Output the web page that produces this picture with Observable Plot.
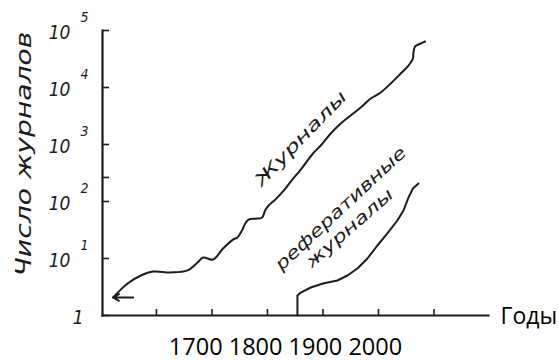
<!DOCTYPE html>
<html><head><meta charset="utf-8">
<script src="https://cdn.jsdelivr.net/npm/d3@7"></script>
<script src="https://cdn.jsdelivr.net/npm/@observablehq/plot@0.6"></script>
<style>
body{margin:0;background:#fff;}
#chart svg{display:block;background:#fff;}
</style></head><body><div id="chart"></div>
<script>
// Журналы
const journalYears  = [1661,1674,1686,1697,1713,1728,1737,1742,1751,1760,1769,1773,1777,1780,1783,1789,1795,1798,1801,1807,1814,1821,1830,1841,1848,1857,1866,1875,1884,1893,1902,1911,1920,1927,1931,1931.5,1933,1938,1942];
const journalCounts = [2.07,3.64,5.03,5.9,5.7,6.2,8.5,10.4,9.6,15,21.5,23.4,31,41,48,50,52,70,85,108,150,224,364,695,960,1560,2335,3230,4460,6410,8170,11750,17600,24300,32300,41100,52400,59100,64100];
// Реферативные журналы
const abstractYears  = [1827,1827,1830,1839,1850,1863,1872,1881,1890,1899,1908,1917,1922.5,1927,1931,1936];
const abstractCounts = [1,2.24,2.53,3.1,3.64,4.11,5.03,6.68,10,16.9,27.5,46.4,69.5,117,169,207];

const xTicks = [1700,1750,1800,1850,1900,1950];
const xTickLabels = ["1700","1800","1900","2000"];
const yTicks = [1,10,100,1000,10000,100000,264];
const yLabelValues = [10,100,1000,10000,100000];
const yLabelBases = ["10","10","10","10","10"];
const yLabelExps = ["1","2","3","4","5"];
const yOneLabel = ["1"];
const yTitle = "Число журналов";
const xTitle = "Годы";
const curveLabels = ["Журналы","реферативные","журналы"];
const curveLabelYears = [1830,1866,1874];
const curveLabelCounts = [1274,75,34];
const arrowYears = [1679,1661];
const arrowCount = 2.07;

const W = 558, H = 362, mL = 102, mR = 70, mT = 30, mB = 47;
const frameW = W - mL - mR, frameH = H - mT - mB;
const ink = "#1c1c1c";
const handFont = "'DejaVu Sans', sans-serif";

const journals = journalYears.map((x,i)=>({x, y: journalCounts[i]}));
const abstracts = abstractYears.map((x,i)=>({x, y: abstractCounts[i]}));
const labels = curveLabels.map((t,i)=>({t, x: curveLabelYears[i], y: curveLabelCounts[i], r: [-46,-43,-41][i]}));
const yLabs = yLabelValues.map((v,i)=>({v, b: yLabelBases[i], e: yLabelExps[i]}));

const plot = Plot.plot({
  width: W, height: H,
  marginLeft: mL, marginRight: mR, marginTop: mT, marginBottom: mB,
  x: {domain: [1651.4, 1999.1], axis: null},
  y: {type: "log", domain: [1, 100000], axis: null},
  style: {fontFamily: handFont, color: ink, background: "#fff"},
  marks: [
    Plot.frame({anchor: "left", stroke: ink, strokeWidth: 2.2}),
    Plot.frame({anchor: "bottom", stroke: ink, strokeWidth: 2.2}),
    Plot.ruleX(xTicks, {x: d => d, insetTop: frameH - 6, stroke: ink, strokeWidth: 1.6}),
    Plot.ruleY(yTicks, {y: d => d, insetRight: frameW - 7, stroke: ink, strokeWidth: 1.6}),
    Plot.line(journals, {x: "x", y: "y", curve: "catmull-rom", stroke: ink, strokeWidth: 2}),
    Plot.line(abstracts, {x: "x", y: "y", curve: "linear", stroke: ink, strokeWidth: 2}),
    Plot.arrow([0], {x1: () => arrowYears[0], x2: () => arrowYears[1], y1: () => arrowCount, y2: () => arrowCount, stroke: ink, strokeWidth: 2, headLength: 9, bend: 0}),
    Plot.text(yLabs, {y: "v", text: "b", frameAnchor: "left", dx: -32, dy: 2, textAnchor: "end", fontSize: 19, fontStyle: "italic", fill: ink}),
    Plot.text(yLabs, {y: "v", text: "e", frameAnchor: "left", dx: -22, dy: -13, textAnchor: "start", fontSize: 14, fontStyle: "italic", fill: ink}),
    Plot.text(yOneLabel, {y: () => 1, text: d => d, frameAnchor: "left", dx: -19, dy: 2, textAnchor: "end", fontSize: 19, fontStyle: "italic", fill: ink}),
    Plot.text([yTitle], {text: d => d, frameAnchor: "left", dx: -78, dy: -19, rotate: -90, textAnchor: "middle", fontSize: 21, fontStyle: "italic", fill: ink}),
    Plot.text(labels, {x: "x", y: "y", text: "t", rotate: "r", textAnchor: "middle", fontSize: 17, fontStyle: "italic", fill: ink}),
    Plot.text([xTitle], {text: d => d, frameAnchor: "bottom-right", dx: 12, dy: 1, textAnchor: "start", lineAnchor: "middle", fontSize: 23, fontFamily: "'Open Sans', sans-serif", fill: "#000"}),
    Plot.text([xTickLabels.join(" ")], {text: d => d, frameAnchor: "bottom", textAnchor: "middle", dx: -10, dy: 32, lineAnchor: "middle", fontSize: 23.5, fontFamily: "'Open Sans', sans-serif", fill: "#000"})
  ]
});
document.getElementById("chart").appendChild(plot);
const svg = d3.select(plot);
const lens = {"Журналы": 124, "реферативные": 172, "журналы": 110};
lens[yTitle] = 245;
svg.selectAll("text").each(function(){
  const t = d3.select(this), s = t.text();
  if (lens[s]) t.attr("textLength", lens[s]).attr("lengthAdjust", "spacingAndGlyphs");
  if (s === "10" || yLabelExps.includes(s) || s === "1") t.style("font-stretch", "condensed");
});
</script></body></html>
